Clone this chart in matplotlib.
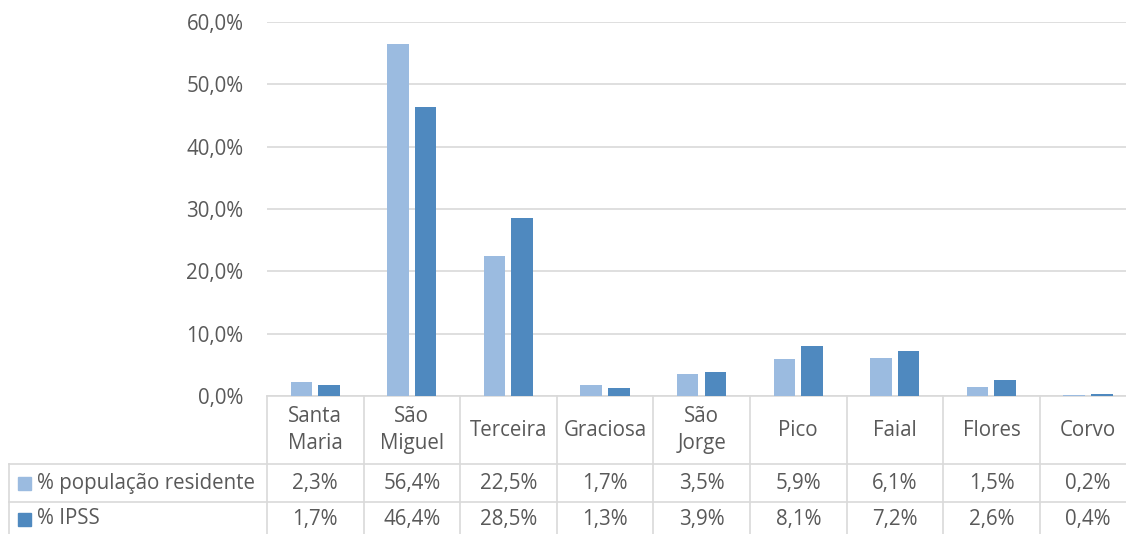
import matplotlib.pyplot as plt
import numpy as np
from matplotlib.transforms import blended_transform_factory
from matplotlib.lines import Line2D
from matplotlib.ticker import FuncFormatter

islands = ["Santa\nMaria", "São\nMiguel", "Terceira", "Graciosa", "São\nJorge",
           "Pico", "Faial", "Flores", "Corvo"]
pop_residente = [2.3, 56.4, 22.5, 1.7, 3.5, 5.9, 6.1, 1.5, 0.2]
ipss = [1.7, 46.4, 28.5, 1.3, 3.9, 8.1, 7.2, 2.6, 0.4]
series_names = ["% população residente", "% IPSS"]
colors = ["#9BBBE0", "#4F89BF"]

TEXT = "#595959"
GRID = "#D9D9D9"
W, H = 1126, 534
FS = 14.8

plt.rcParams['font.family'] = ['Open Sans', 'DejaVu Sans']

fig = plt.figure(figsize=(W / 100, H / 100), dpi=100)
# plot area in pixels: left 267, top 22, bottom 396, category width ~96.6 px
cat_w = 96.6
ax = fig.add_axes([267 / W, (H - 396) / H, 9 * cat_w / W, (396 - 22) / H])

x = np.arange(len(islands))
bw = 0.222
ax.bar(x - 0.145, pop_residente, bw, color=colors[0], zorder=3)
ax.bar(x + 0.142, ipss, bw, color=colors[1], zorder=3)

ax.set_xlim(-0.5, len(islands) - 0.5)
ax.set_ylim(0, 60)
ax.set_yticks(np.arange(0, 61, 10))
ax.yaxis.set_major_formatter(FuncFormatter(lambda v, p: f"{v:.1f}%".replace(".", ",")))
ax.tick_params(axis='y', length=0, pad=17, labelsize=FS, labelcolor=TEXT)
ax.set_xticks([])
ax.grid(axis='y', color=GRID, linewidth=1.2, zorder=0)
for s in ["top", "right", "left"]:
    ax.spines[s].set_visible(False)
ax.spines["bottom"].set_color(GRID)
ax.spines["bottom"].set_linewidth(1.2)

# data table below the plot
def fy(py):
    return (H - py) / H

tr = blended_transform_factory(ax.transData, fig.transFigure)
row_cat, row1, row2 = 430, 483, 519

for i in range(len(islands) + 1):
    fig.add_artist(Line2D([i - 0.5, i - 0.5], [fy(396), fy(H)], transform=tr,
                          color=GRID, linewidth=1.2, clip_on=False))
for py in [464, 502]:
    fig.add_artist(Line2D([9 / W, 1], [fy(py), fy(py)], transform=fig.transFigure,
                          color=GRID, linewidth=1.2))
fig.add_artist(Line2D([9 / W, 9 / W], [fy(464), fy(H)], transform=fig.transFigure,
                      color=GRID, linewidth=1.2))

for i, name in enumerate(islands):
    fig.text(i, fy(row_cat), name, transform=tr, ha='center', va='center',
             fontsize=FS, color=TEXT, linespacing=1.35)
    fig.text(i, fy(row1), f"{pop_residente[i]:.1f}%".replace(".", ","), transform=tr,
             ha='center', va='center', fontsize=FS, color=TEXT)
    fig.text(i, fy(row2), f"{ipss[i]:.1f}%".replace(".", ","), transform=tr,
             ha='center', va='center', fontsize=FS, color=TEXT)

for py, name, c in zip([row1, row2], series_names, colors):
    fig.patches.append(plt.Rectangle((18 / W, fy(py + 6.5)), 13 / W, 13 / H,
                                     transform=fig.transFigure, color=c, figure=fig))
    fig.text(37 / W, fy(py), name, ha='left', va='center', fontsize=FS, color=TEXT)

fig.savefig("out.png", dpi=100)
